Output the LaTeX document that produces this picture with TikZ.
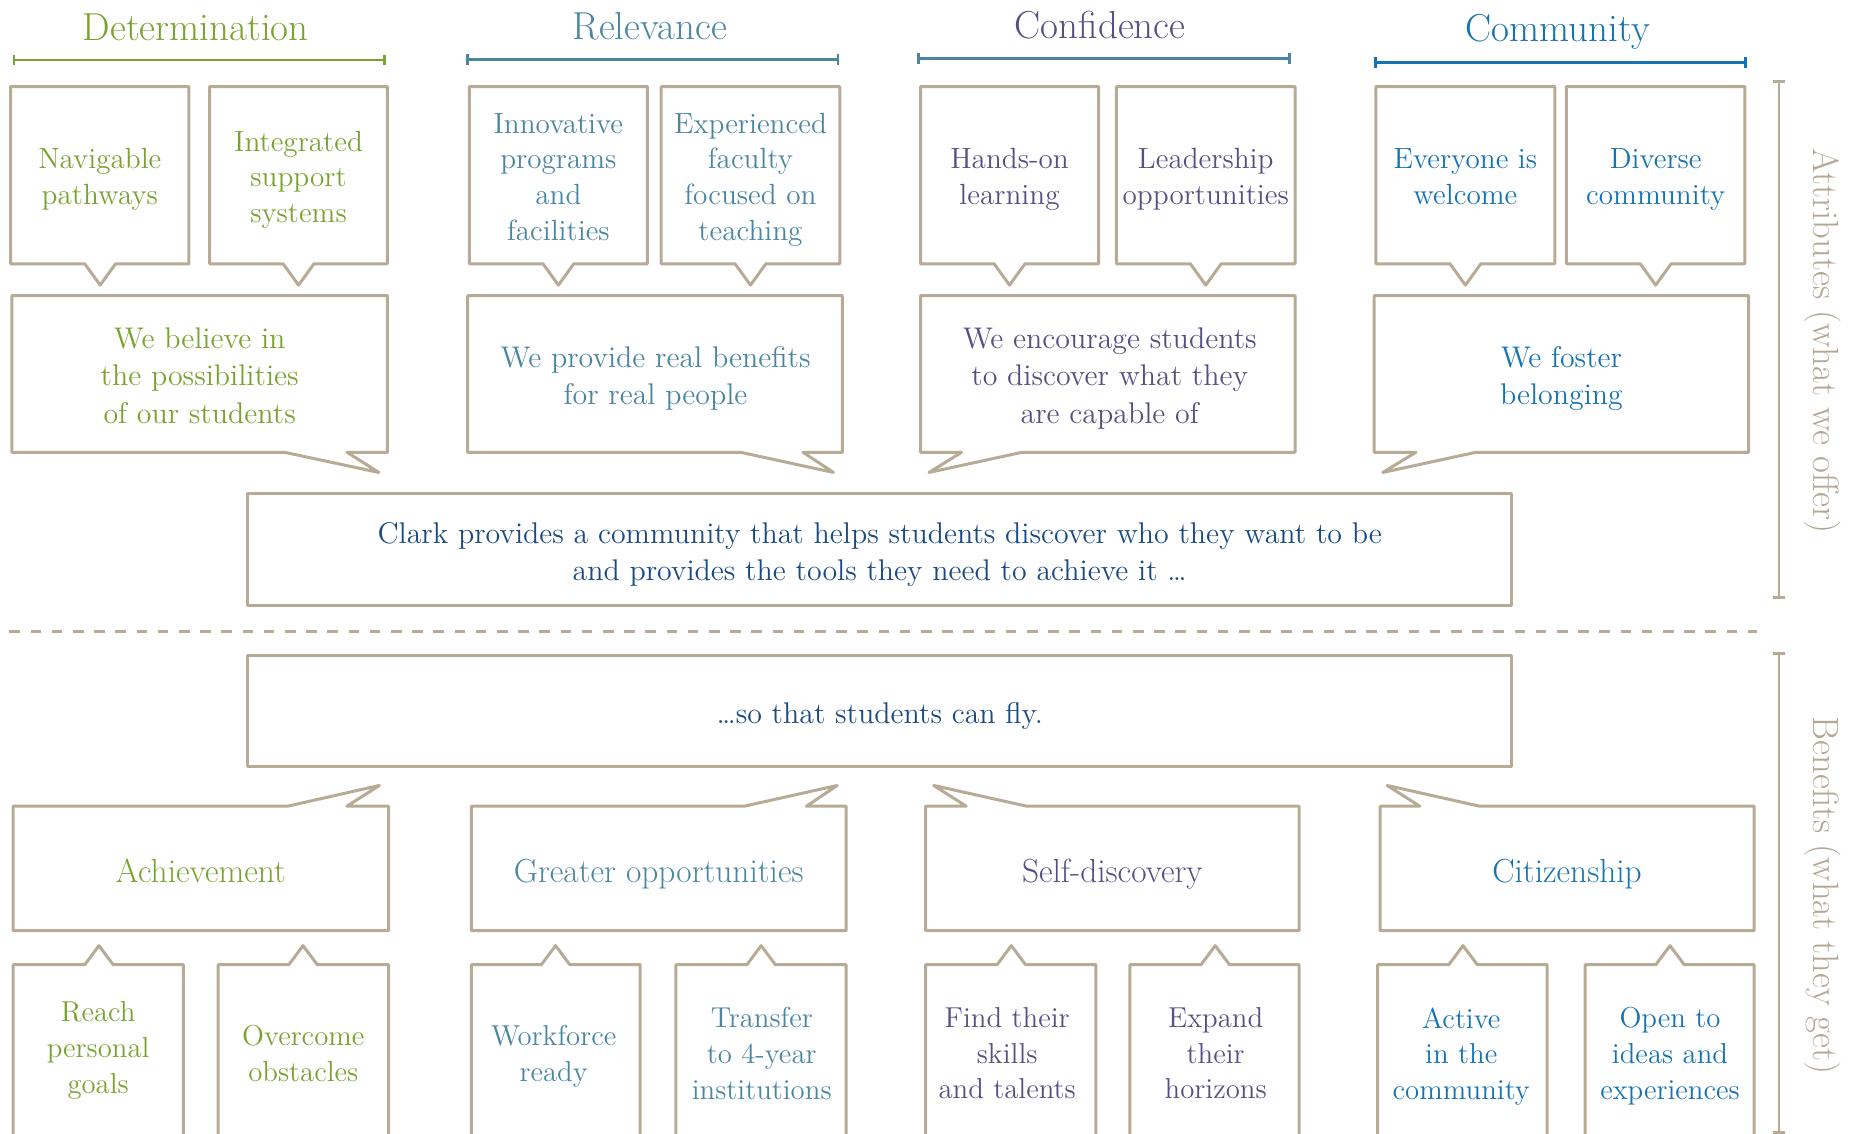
\documentclass[tikz,border=0pt]{standalone}
\usepackage{tikz}
\definecolor{detgreen}{RGB}{122,162,48}
\definecolor{relteal}{RGB}{74,134,160}
\definecolor{confpurple}{RGB}{84,81,130}
\definecolor{commblue}{RGB}{22,115,178}
\definecolor{clarknavy}{RGB}{26,74,128}
\definecolor{tanline}{RGB}{183,171,150}
\definecolor{tantext}{RGB}{180,168,148}

\begin{document}
\begin{tikzpicture}[line cap=round,line join=round,x=0.5928pt,y=-0.5928pt,
	bubble/.style={line width=1.5pt,color=tanline},
	bar/.style={line width=1.35pt,line cap=butt},
	head/.style={anchor=base,font=\fontsize{19.5}{23}\selectfont},
	txt/.style={align=center,execute at begin node=\strut,execute at end node=\strut},
	toptxt/.style={txt,font=\fontsize{14.6}{17.8}\selectfont},
	midtxt/.style={txt,font=\fontsize{14.95}{18.7}\selectfont},
	lowtxt/.style={txt,font=\fontsize{16.7}{18.7}\selectfont},
	smalltxt/.style={txt,font=\fontsize{14.4}{17.8}\selectfont},
	side/.style={rotate=-90,color=tantext,font=\fontsize{18.3}{22}\selectfont}]
	\useasboundingbox (0,0) rectangle (1568,956);

	% headings
	\node[head,color=detgreen] (hdet) at (165,34.3) {Determination};
	\node[head,color=relteal] (hrel) at (548,33.7) {Relevance};
	\node[head,color=confpurple] (hconf) at (928,32.3) {Confidence};
	\node[head,color=commblue] (hcomm) at (1314,35) {Community};
	\draw [bar,color=detgreen] (11.7,46) -- (11.7,55) (11.7,50.6) -- (324.5,50.6) (324.5,46) -- (324.5,55);
	\draw [bar,color=relteal] (394.5,45.5) -- (394.5,54.5) (394.5,50) -- (706.7,50) (706.7,45.5) -- (706.7,54.5);
	\draw [bar,color=relteal] (774.9,44.7) -- (774.9,53.7) (774.9,49.2) -- (1087.8,49.2) (1087.8,44.7) -- (1087.8,53.7);
	\draw [bar,color=commblue] (1160,48) -- (1160,57) (1160,52.6) -- (1472.4,52.6) (1472.4,48) -- (1472.4,57);

	% small boxes, top row
	\draw [bubble] (9,73) -- (159.4,73) -- (159.4,222.5) -- (97.5,222.5) -- (84.5,240.5) -- (71.5,222.5) -- (9,222.5) -- cycle;
	\draw [bubble] (176.8,73) -- (326.8,73) -- (326.8,222.5) -- (264.8,222.5) -- (251.8,240.5) -- (238.8,222.5) -- (176.8,222.5) -- cycle;
	\draw [bubble] (395.9,73) -- (546,73) -- (546,222.5) -- (484,222.5) -- (471,240.5) -- (458,222.5) -- (395.9,222.5) -- cycle;
	\draw [bubble] (557.7,73) -- (708.3,73) -- (708.3,222.5) -- (646,222.5) -- (633,240.5) -- (620,222.5) -- (557.7,222.5) -- cycle;
	\draw [bubble] (776.4,73) -- (926.6,73) -- (926.6,222.5) -- (864.5,222.5) -- (851.5,240.5) -- (838.5,222.5) -- (776.4,222.5) -- cycle;
	\draw [bubble] (941.7,73) -- (1092.3,73) -- (1092.3,222.5) -- (1030,222.5) -- (1017,240.5) -- (1004,222.5) -- (941.7,222.5) -- cycle;
	\draw [bubble] (1160.5,73) -- (1311.5,73) -- (1311.5,222.5) -- (1249,222.5) -- (1236,240.5) -- (1223,222.5) -- (1160.5,222.5) -- cycle;
	\draw [bubble] (1321.1,73) -- (1471.7,73) -- (1471.7,222.5) -- (1409.5,222.5) -- (1396.5,240.5) -- (1383.5,222.5) -- (1321.1,222.5) -- cycle;
	\node[toptxt,color=detgreen] (navig) at (84.2,153.5) {Navigable\\pathways};
	\node[toptxt,color=detgreen] (integ) at (251.8,153.5) {Integrated\\support\\systems};
	\node[toptxt,color=relteal] (innov) at (471,153.5) {Innovative\\programs\\and\\facilities};
	\node[toptxt,color=relteal] (exper) at (633,153.5) {Experienced\\faculty\\focused on\\teaching};
	\node[toptxt,color=confpurple] (hands) at (851.5,153.5) {Hands-on\\learning};
	\node[toptxt,color=confpurple] (leader) at (1017,153.5) {Leadership\\opportunities};
	\node[toptxt,color=commblue] (everyone) at (1236,153.5) {Everyone is\\welcome};
	\node[toptxt,color=commblue] (diverse) at (1396.5,153.5) {Diverse\\community};

	% speech boxes, attributes
	\draw [bubble] (10,249.4) -- (326.8,249.4) -- (326.8,381.5) -- (292.8,381.5) -- (319.5,398.5) -- (240.1,381.5) -- (10,381.5) -- cycle;
	\draw [bubble] (394.5,249.4) -- (710.5,249.4) -- (710.5,381.5) -- (677.3,381.5) -- (703,398.5) -- (624.7,381.5) -- (394.5,381.5) -- cycle;
	\draw [bubble] (776.4,249.4) -- (1092.3,249.4) -- (1092.3,381.5) -- (862,381.5) -- (783.6,398.5) -- (811.1,381.5) -- (776.4,381.5) -- cycle;
	\draw [bubble] (1159,249.4) -- (1474.8,249.4) -- (1474.8,381.5) -- (1244.8,381.5) -- (1166.3,398.5) -- (1194.2,381.5) -- (1159,381.5) -- cycle;
	\node[midtxt,color=detgreen] (believe) at (168.4,321.5) {We believe in\\the possibilities\\of our students};
	\node[midtxt,color=relteal] (provide) at (553,321.5) {We provide real benefits\\for real people};
	\node[midtxt,color=confpurple] (encourage) at (936,321.5) {We encourage students\\to discover what they\\are capable of};
	\node[midtxt,color=commblue] (foster) at (1317,321.5) {We foster\\belonging};

	% middle
	\draw [bubble] (208.9,416) rectangle (1275,510.3);
	\node[midtxt,font=\fontsize{14.95}{18.4}\selectfont,color=clarknavy] (clark) at (742,469.5) {Clark provides a community that helps students discover who they want to be\\and provides the tools they need to achieve it \ldots};
	\draw [bubble,dash pattern=on 5.3pt off 5.3pt,line cap=butt] (8,532.8) -- (1481.7,532.8);
	\draw [bubble] (208.9,553.3) rectangle (1275,646.7);
	\node[midtxt,color=clarknavy] (fly) at (742,604) {\ldots so that students can fly.};

	% speech boxes, benefits
	\draw [bubble] (11,785) -- (11,680) -- (242.6,680) -- (320,662.5) -- (292.6,680) -- (327.7,680) -- (327.7,785) -- cycle;
	\draw [bubble] (397.6,785) -- (397.6,680) -- (627.7,680) -- (706.2,662.5) -- (680.2,680) -- (713.7,680) -- (713.7,785) -- cycle;
	\draw [bubble] (780.8,785) -- (780.8,680) -- (815,680) -- (787.5,662.5) -- (866,680) -- (1095.7,680) -- (1095.7,785) -- cycle;
	\draw [bubble] (1164,785) -- (1164,680) -- (1197.5,680) -- (1170,662.5) -- (1248,680) -- (1479.5,680) -- (1479.5,785) -- cycle;
	\node[lowtxt,color=detgreen] (achieve) at (169.4,738) {Achievement};
	\node[lowtxt,color=relteal] (greater) at (555.6,738) {Greater opportunities};
	\node[lowtxt,color=confpurple] (selfdisc) at (938.2,738) {Self-discovery};
	\node[lowtxt,color=commblue] (citizen) at (1321.7,738) {Citizenship};

	% small boxes, bottom row
	\draw [bubble] (11,960) -- (11,813.7) -- (71.5,813.7) -- (83.5,797.6) -- (95.5,813.7) -- (154.6,813.7) -- (154.6,960);
	\draw [bubble] (184,960) -- (184,813.7) -- (243.6,813.7) -- (255.6,797.6) -- (267.6,813.7) -- (327.7,813.7) -- (327.7,960);
	\draw [bubble] (397.6,960) -- (397.6,813.7) -- (456.6,813.7) -- (468.6,797.6) -- (480.6,813.7) -- (540,813.7) -- (540,960);
	\draw [bubble] (570,960) -- (570,813.7) -- (630,813.7) -- (642,797.6) -- (654,813.7) -- (713.7,813.7) -- (713.7,960);
	\draw [bubble] (780.8,960) -- (780.8,813.7) -- (841,813.7) -- (853,797.6) -- (865,813.7) -- (924.4,813.7) -- (924.4,960);
	\draw [bubble] (953,960) -- (953,813.7) -- (1013,813.7) -- (1025,797.6) -- (1037,813.7) -- (1095.7,813.7) -- (1095.7,960);
	\draw [bubble] (1162,960) -- (1162,813.7) -- (1222,813.7) -- (1234,797.6) -- (1246,813.7) -- (1305,813.7) -- (1305,960);
	\draw [bubble] (1337,960) -- (1337,813.7) -- (1396.6,813.7) -- (1408.6,797.6) -- (1420.6,813.7) -- (1479.5,813.7) -- (1479.5,960);
	\node[smalltxt,color=detgreen] (reach) at (82.8,888) {Reach\\personal\\goals};
	\node[smalltxt,color=detgreen] (overcome) at (255.8,893) {Overcome\\obstacles};
	\node[smalltxt,color=relteal] (workforce) at (467,893) {Workforce\\ready};
	\node[smalltxt,color=relteal] (transfer) at (642.5,893) {Transfer\\to 4-year\\institutions};
	\node[smalltxt,color=confpurple] (findskills) at (849.5,893) {Find their\\skills\\and talents};
	\node[smalltxt,color=confpurple] (expand) at (1025.4,893) {Expand\\their\\horizons};
	\node[smalltxt,color=commblue] (active) at (1232.5,893) {Active\\in the\\community};
	\node[smalltxt,color=commblue] (opento) at (1408.6,893) {Open to\\ideas and\\experiences};

	% side brackets
	\draw [bar,color=tanline,line width=1.3pt] (1495.5,68.9) -- (1505.5,68.9) (1500.5,68.9) -- (1500.5,503.8) (1495.5,503.8) -- (1505.5,503.8);
	\draw [bar,color=tanline,line width=1.3pt] (1495.5,551.3) -- (1505.5,551.3) (1500.5,551.3) -- (1500.5,955.4) (1495.5,955.4) -- (1505.5,955.4);
	\node[side] (attrib) at (1537,287.5) {Attributes (what we offer)};
	\node[side] (benef) at (1537,755.5) {Benefits (what they get)};
\end{tikzpicture}
\end{document}
